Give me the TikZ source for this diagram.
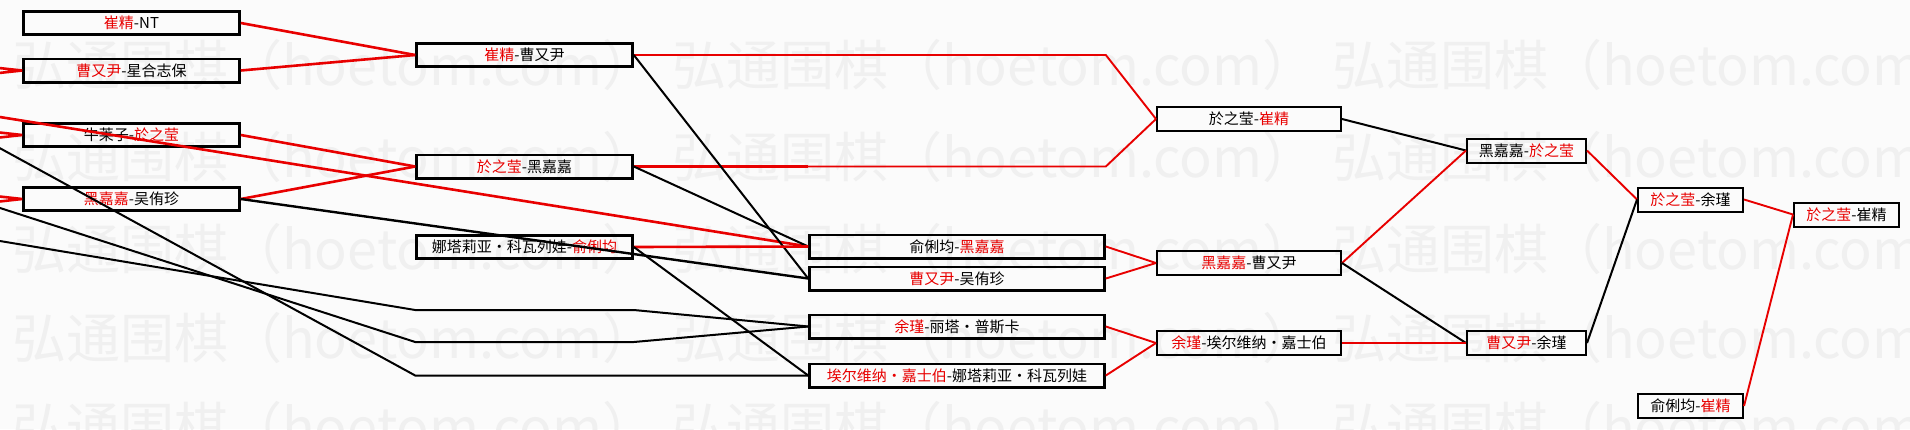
\documentclass[tikz,border=0pt]{standalone}
\usepackage{fontspec}
\usepackage{tikz}
\usetikzlibrary{calc}

\newfontfamily\cjk{Noto Sans CJK SC}
\definecolor{winred}{RGB}{232,0,0}
\definecolor{wmgray}{RGB}{240,240,240}
\definecolor{paper}{RGB}{251,251,251}
\newcommand{\wn}[1]{\textcolor{winred}{#1}}

\begin{document}
\begin{tikzpicture}[x=1pt, y=-1pt,
    every node/.style={font=\cjk\fontsize{15}{15}\selectfont, inner sep=0pt},
    gamebig/.style={draw, line width=2.6pt, minimum height=23.4pt},
    gamesmall/.style={draw, line width=2pt, minimum height=24pt},
    wm/.style={font=\cjk\fontsize{54}{54}\selectfont, text=wmgray, anchor=west},
    redheavy/.style={draw=winred, line width=2.6pt},
    redline/.style={draw=winred, line width=1.9pt},
    blkheavy/.style={draw=black, line width=2.4pt},
    blkline/.style={draw=black, line width=2pt}]

    \clip (0,0) rectangle (1910,429);
    \fill[paper] (0,0) rectangle (1910,429);

    % --- 水印 ---
    \foreach \r in {65,157,249,338,427}{
        \foreach \k in {0,1,2}{
            \node[wm] (wm-\r-\k) at (12+660*\k, \r) {弘通围棋（hoetom.com）};
        }
    }

    % --- 第一列 ---
    \node[gamebig, minimum width=216pt] (a1) at (131.5,23)  {\wn{崔精}-NT};
    \node[gamebig, minimum width=216pt] (a2) at (131.5,70.5) {\wn{曹又尹}-星合志保};
    \node[gamebig, minimum width=216pt] (a3) at (131.5,135) {牛莱子-\wn{於之莹}};
    \node[gamebig, minimum width=216pt] (a4) at (131.5,199) {\wn{黑嘉嘉}-吴侑珍};

    % --- 第二列 ---
    \node[gamebig, minimum width=216pt] (b1) at (524.5,55)    {\wn{崔精}-曹又尹};
    \node[gamebig, minimum width=216pt] (b2) at (524.5,166.5) {\wn{於之莹}-黑嘉嘉};
    \node[gamebig, minimum width=216pt] (b3) at (524.5,247)   {娜塔莉亚・科瓦列娃-\wn{俞俐均}};

    % --- 第三列 ---
    \node[gamebig, minimum width=295pt] (c1) at (957,246.5) {俞俐均-\wn{黑嘉嘉}};
    \node[gamebig, minimum width=295pt] (c2) at (957,278.5) {\wn{曹又尹}-吴侑珍};
    \node[gamebig, minimum width=295pt] (c3) at (957,326.5) {\wn{余瑾}-丽塔・普斯卡};
    \node[gamebig, minimum width=295pt] (c4) at (957,375.5) {\wn{埃尔维纳・嘉士伯}-娜塔莉亚・科瓦列娃};

    % --- 第四列 ---
    \node[gamesmall, minimum width=184pt] (d1) at (1249,119) {於之莹-\wn{崔精}};
    \node[gamesmall, minimum width=184pt] (d2) at (1249,263) {\wn{黑嘉嘉}-曹又尹};
    \node[gamesmall, minimum width=184pt] (d3) at (1249,343) {\wn{余瑾}-埃尔维纳・嘉士伯};

    % --- 第五列及以后 ---
    \node[gamesmall, minimum width=119pt] (e1) at (1526.5,150.5) {黑嘉嘉-\wn{於之莹}};
    \node[gamesmall, minimum width=119pt] (e2) at (1526.5,343)   {\wn{曹又尹}-余瑾};
    \node[gamesmall, minimum width=105pt] (f1) at (1690.5,199.5) {\wn{於之莹}-余瑾};
    \node[gamesmall, minimum width=105pt] (f2) at (1690.5,406)   {俞俐均-\wn{崔精}};
    \node[gamesmall, minimum width=105pt] (g1) at (1846.5,214.5) {\wn{於之莹}-崔精};

    % --- 画面左侧以外的来路 ---
    \coordinate (in2a) at (-150,52);
    \coordinate (in2b) at (-150,89);
    \coordinate (in3a) at (-150,116);
    \coordinate (in3b) at (-150,154);
    \coordinate (in4a) at (-150,180);
    \coordinate (in4b) at (-150,218);
    \coordinate (inlong) at (-150,93);
    \coordinate (inL1) at (-100,93.5);
    \coordinate (inL2) at (-100,175.7);
    \coordinate (inL3) at (-100,224.4);

    \draw[redheavy] (in2a) -- (a2.west) (in2b) -- (a2.west);
    \draw[redheavy] (in3a) -- (a3.west) (in3b) -- (a3.west);
    \draw[redheavy] (in4a) -- (a4.west) (in4b) -- (a4.west);
    \draw[redheavy] (inlong) -- (c1.west);
    \draw[blkline] (inL1) -- (b3.west |- c4.west) -- (c4.west);
    \draw[blkline] (inL2) -- ($(b3.west |- c3.west)+(0,15.5)$) -- ($(b3.east |- c3.west)+(0,15.5)$) -- (c3.west);
    \draw[blkline] (inL3) -- ($(b3.west |- c3.west)+(0,-16.5)$) -- ($(b3.east |- c3.west)+(0,-16.5)$) -- (c3.west);

    % --- 第一列 -> 第二列 ---
    \draw[redheavy] (a1.east) -- (b1.west);
    \draw[redheavy] (a2.east) -- (b1.west);
    \draw[redheavy] (a3.east) -- (b2.west);
    \draw[redheavy] (a4.east) -- (b2.west);
    \draw[blkheavy] (a4.east) -- (c2.west);

    % --- 第二列 -> 后面 ---
    \draw[redheavy] (b1.east) -- (b1.east -| c1.west);
    \draw[redline] (b1.east -| c1.west) -- (b1.east -| c1.east) -- (d1.west);
    \draw[redheavy] (b2.east) -- (b2.east -| c1.west);
    \draw[redline] (b2.east -| c1.west) -- (b2.east -| c1.east) -- (d1.west);
    \draw[blkline] (b1.east) -- (c2.west);
    \draw[blkline] (b2.east) -- (c1.west);
    \draw[redheavy] (b3.east) -- (c1.west);
    \draw[blkline] (b3.east) -- (c4.west);

    % --- 第三列 -> 第四列 ---
    \draw[redline] (c1.east) -- (d2.west);
    \draw[redline] (c2.east) -- (d2.west);
    \draw[redline] (c3.east) -- (d3.west);
    \draw[redline] (c4.east) -- (d3.west);

    % --- 第四列 -> 决赛 ---
    \draw[blkline] (d1.east) -- (e1.west);
    \draw[redline] (d2.east) -- (e1.west);
    \draw[blkline] (d2.east) -- (e2.west);
    \draw[redline] (d3.east) -- (e2.west);
    \draw[redline] (e1.east) -- (f1.west);
    \draw[blkline] (e2.east) -- (f1.west);
    \draw[redline] (f1.east) -- (g1.west);
    \draw[redline] (f2.east) -- (g1.west);
\end{tikzpicture}
\end{document}
